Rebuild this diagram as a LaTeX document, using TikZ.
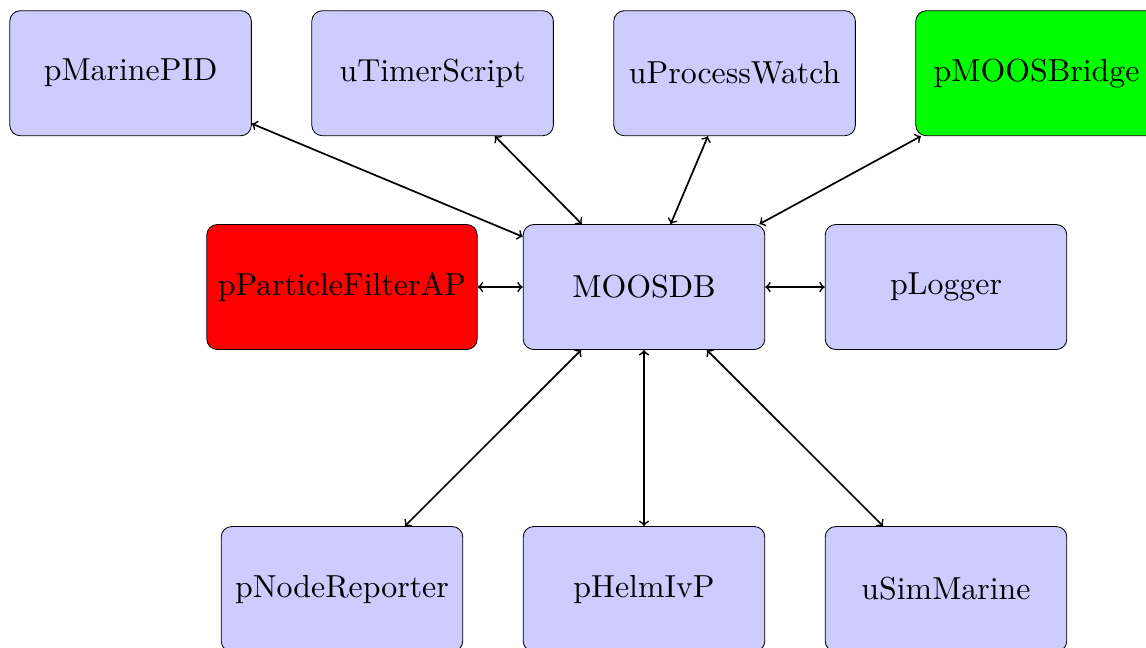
\documentclass[tikz,border=0pt]{standalone}
\font\lmten="[lmroman10-regular]:+tlig;" at 15pt
\begin{document}
\begin{tikzpicture}[
  proc/.style={draw, rounded corners=5pt, fill=blue!20, minimum width=4cm, minimum height=2.07cm, inner sep=5.2pt, font=\lmten, line width=0.4pt},
  link/.style={<->, thick}
]
\useasboundingbox (-10.662,-5.960) rectangle (8.311,4.752);
\node[proc] (db) at (0,0) {MOOSDB};
\node[proc] (pid) at (-8.5,3.54) {pMarinePID};
\node[proc] (timer) at (-3.5,3.54) {uTimerScript};
\node[proc] (watch) at (1.5,3.54) {uProcessWatch};
\node[proc, fill=green] (bridge) at (6.5,3.54) {pMOOSBridge};
\node[proc, fill=red] (pf) at (-5,0) {pParticleFilterAP};
\node[proc] (log) at (5,0) {pLogger};
\node[proc] (rep) at (-5,-5) {pNodeReporter};
\node[proc] (helm) at (0,-5) {pHelmIvP};
\node[proc] (sim) at (5,-5) {uSimMarine};
\draw[link] (pid) -- (db);
\draw[link] (timer) -- (db);
\draw[link] (watch) -- (db);
\draw[link] (bridge) -- (db);
\draw[link] (pf) -- (db);
\draw[link] (log) -- (db);
\draw[link] (rep) -- (db);
\draw[link] (helm) -- (db);
\draw[link] (sim) -- (db);
\end{tikzpicture}
\end{document}
